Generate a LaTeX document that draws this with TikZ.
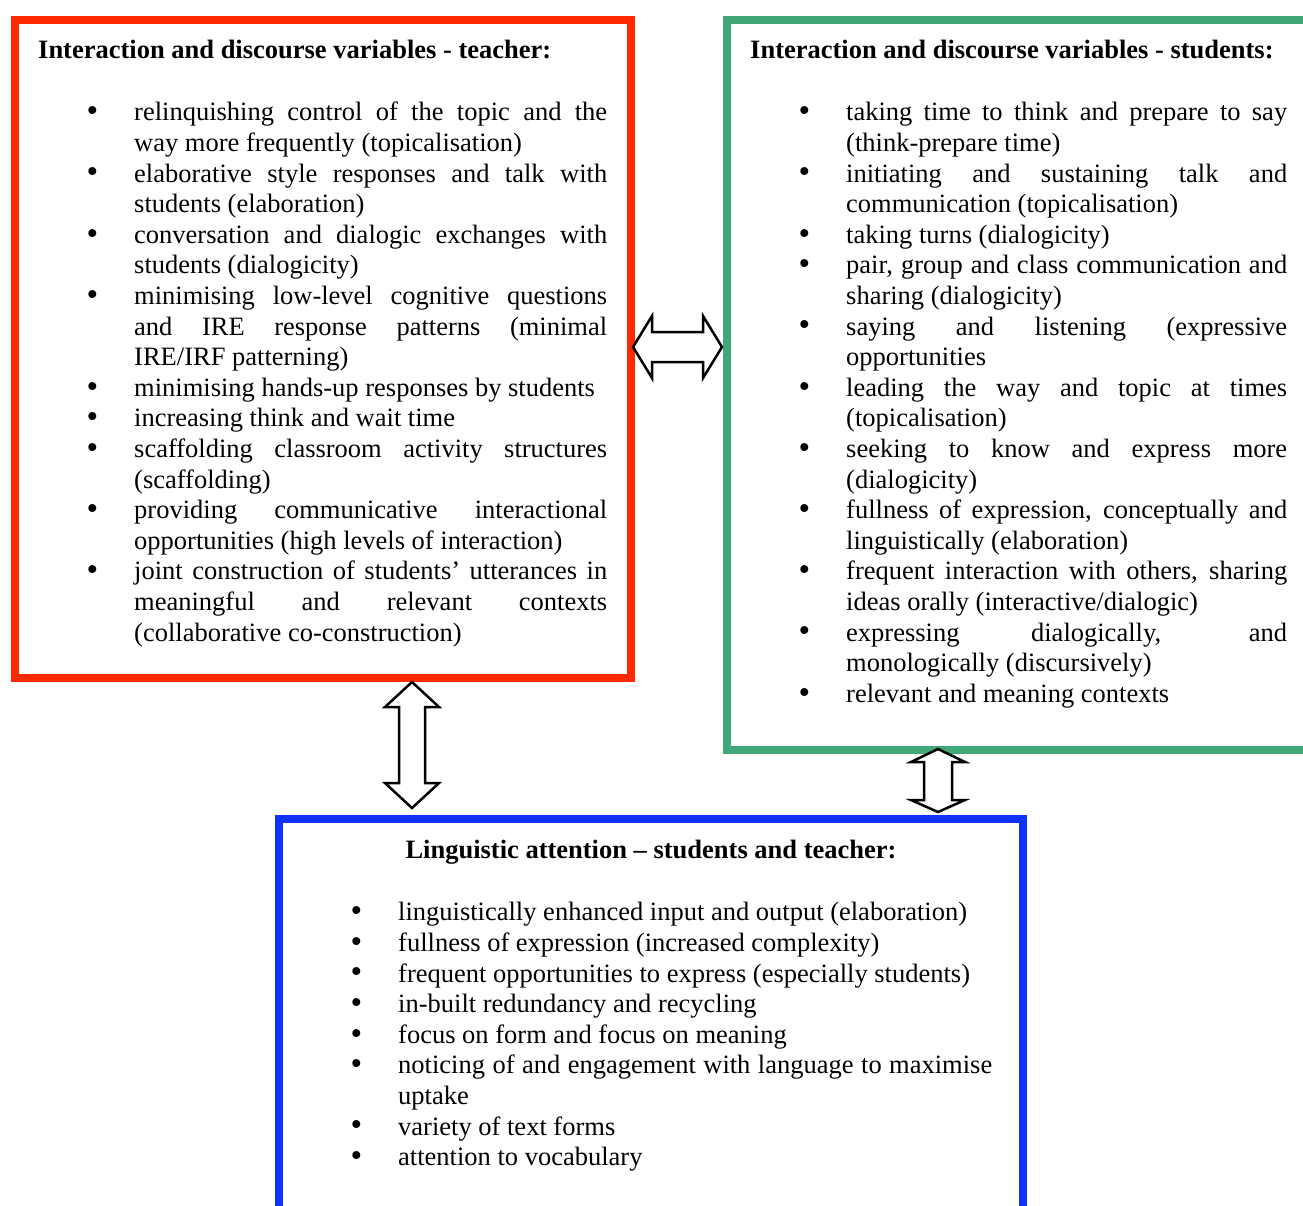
\documentclass[tikz,border=0pt]{standalone}
\usepackage{fontspec}
\usepackage{graphicx}
\setmainfont{Liberation Serif}
\definecolor{boxred}{HTML}{FF2A00}
\definecolor{boxgreen}{HTML}{40A878}
\definecolor{boxblue}{HTML}{0F32FF}
\newcommand\diagfs{\fontsize{26.5}{30.6}\selectfont}
\newcommand\ditem{\par\noindent\hangindent=47pt\hangafter=1\makebox[47pt][l]{\hspace{-0.5pt}\raisebox{-0.8pt}{\scalebox{1.25}{\textbullet}}}\ignorespaces}
\hyphenpenalty=10000
\exhyphenpenalty=10000
\tolerance=10000
\begin{document}
\begin{tikzpicture}[x=1pt,y=-1pt,
  boxline/.style={line width=8pt},
  blockarrow/.style={draw=black, line width=2.5pt, fill=white, line join=miter},
  headtext/.style={anchor=base west, inner sep=0pt, font=\bfseries\diagfs},
  listtext/.style={anchor=base west, inner sep=0pt, align=justify, font=\diagfs}]
\useasboundingbox (0,0) rectangle (1303,1205);
\clip (0,0) rectangle (1303,1205);
\fill[white] (0,0) rectangle (1303,1205);

% boxes
\draw[boxline, boxred] (15,20) rectangle (631,678);
\draw[boxline, boxgreen] (727,20) rectangle (1330,750);
\draw[boxline, boxblue] (279,819) rectangle (1023,1240);

% block arrows
\draw[blockarrow] (633,347) -- (652,316) -- (652,332) -- (703,332) -- (703,316) -- (722,347) -- (703,378) -- (703,362) -- (652,362) -- (652,378) -- cycle;
\draw[blockarrow] (412,682) -- (439,707) -- (425,707) -- (425,783) -- (439,783) -- (412,808) -- (385,783) -- (399,783) -- (399,707) -- (385,707) -- cycle;
\draw[blockarrow] (938,749) -- (965,762) -- (952,762) -- (952,800) -- (965,800) -- (938,812) -- (911,800) -- (924,800) -- (924,762) -- (911,762) -- cycle;

% teacher box
\node[headtext] (th) at (38,58.5) {Interaction and discourse variables - teacher:};
\node[listtext, text width=520pt] (tl) at (87,90.2) {%
\ditem relinquishing control of the topic and the\linebreak way more frequently (topicalisation)
\ditem elaborative style responses and talk with\linebreak students (elaboration)
\ditem conversation and dialogic exchanges with\linebreak students (dialogicity)
\ditem minimising low-level cognitive questions\linebreak and IRE response patterns (minimal\linebreak IRE/IRF patterning)
\ditem minimising hands-up responses by students
\ditem increasing think and wait time
\ditem scaffolding classroom activity structures\linebreak (scaffolding)
\ditem providing communicative interactional\linebreak opportunities (high levels of interaction)
\ditem joint construction of students’ utterances in\linebreak meaningful and relevant contexts\linebreak (collaborative co-construction)\par};

% students box
\node[headtext] (sh) at (750,58.5) {Interaction and discourse variables - students:};
\node[listtext, text width=488pt] (sl) at (799,90.2) {%
\ditem taking time to think and prepare to say\linebreak (think-prepare time)
\ditem initiating and sustaining talk and\linebreak communication (topicalisation)
\ditem taking turns (dialogicity)
\ditem pair, group and class communication and\linebreak sharing (dialogicity)
\ditem saying and listening (expressive\linebreak opportunities
\ditem leading the way and topic at times\linebreak (topicalisation)
\ditem seeking to know and express more\linebreak (dialogicity)
\ditem fullness of expression, conceptually and\linebreak linguistically (elaboration)
\ditem frequent interaction with others, sharing\linebreak ideas orally (interactive/dialogic)
\ditem expressing dialogically, and\linebreak monologically (discursively)
\ditem relevant and meaning contexts\par};

% linguistic box
\node[headtext, anchor=base] (lh) at (651,858.5) {Linguistic attention – students and teacher:};
\node[listtext, text width=641pt] (ll) at (351,890.2) {%
\ditem linguistically enhanced input and output (elaboration)
\ditem fullness of expression (increased complexity)
\ditem frequent opportunities to express (especially students)
\ditem in-built redundancy and recycling
\ditem focus on form and focus on meaning
\ditem noticing of and engagement with language to maximise\linebreak uptake
\ditem variety of text forms
\ditem attention to vocabulary\par};
\end{tikzpicture}
\end{document}
